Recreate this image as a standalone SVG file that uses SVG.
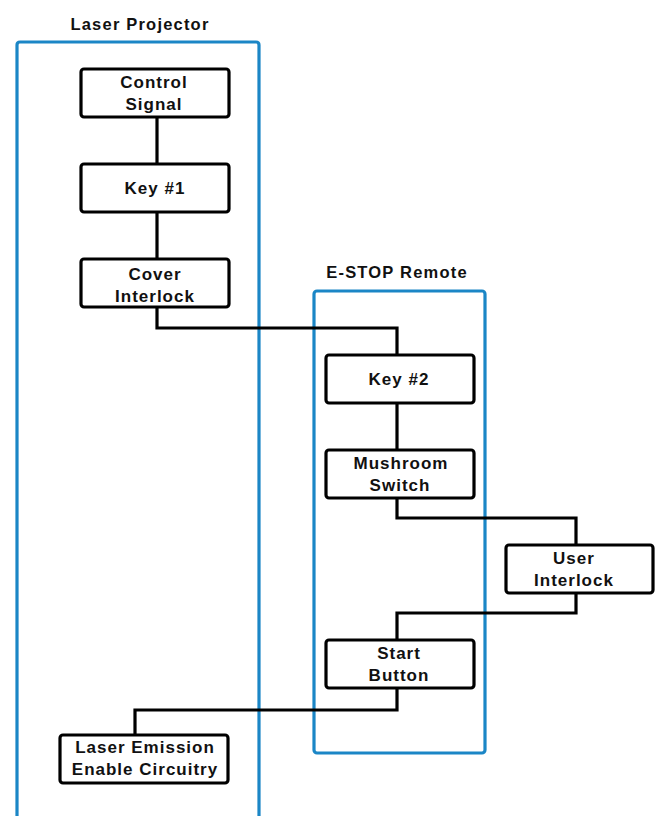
<svg xmlns="http://www.w3.org/2000/svg" width="655" height="816" viewBox="0 0 655 816">
<style>
.cont{fill:none;stroke:#1b86c6;stroke-width:3.2;stroke-linejoin:round}
.box{fill:#fff;stroke:#000;stroke-width:3.2}
.conn{fill:none;stroke:#000;stroke-width:3.2;stroke-linejoin:miter}
text{font-family:"Liberation Sans",Arial,sans-serif;font-weight:bold;font-size:17px;fill:#111;text-anchor:middle;letter-spacing:1px}
.title{font-size:16.5px;letter-spacing:1.2px}
</style>
<rect width="655" height="816" fill="#fff"/>
<g id="laser-projector">
<path class="cont" d="M17 830 V45 Q17 42 20 42 H256 Q259 42 259 45 V830"/>
<text class="title" x="140" y="30">Laser Projector</text>
</g>
<g id="estop-remote">
<rect class="cont" x="314" y="291" width="171" height="462" rx="3"/>
<text class="title" x="397" y="278">E-STOP Remote</text>
</g>
<g id="connectors">
<path class="conn" d="M157 117 V164"/>
<path class="conn" d="M157 212 V259"/>
<path class="conn" d="M157 307 V328 H397 V355"/>
<path class="conn" d="M397 403 V450"/>
<path class="conn" d="M397 498 V518 H576 V545"/>
<path class="conn" d="M576 593 V613 H397 V640"/>
<path class="conn" d="M397 688 V710 H135 V735"/>
</g>
<g id="control-signal">
<rect class="box" x="81" y="69" width="148" height="48" rx="3"/>
<text x="154" y="88">Control</text>
<text x="154" y="110">Signal</text>
</g>
<g id="key1">
<rect class="box" x="81" y="164" width="148" height="48" rx="3"/>
<text x="155" y="194">Key #1</text>
</g>
<g id="cover-interlock">
<rect class="box" x="81" y="259" width="148" height="48" rx="3"/>
<text x="155" y="280">Cover</text>
<text x="155" y="302">Interlock</text>
</g>
<g id="key2">
<rect class="box" x="326" y="355" width="148" height="48" rx="3"/>
<text x="399" y="385">Key #2</text>
</g>
<g id="mushroom-switch">
<rect class="box" x="326" y="450" width="148" height="48" rx="3"/>
<text x="401" y="469">Mushroom</text>
<text x="400" y="491">Switch</text>
</g>
<g id="user-interlock">
<rect class="box" x="506" y="545" width="147" height="48" rx="3"/>
<text x="574" y="564">User</text>
<text x="574" y="586">Interlock</text>
</g>
<g id="start-button">
<rect class="box" x="326" y="640" width="148" height="48" rx="3"/>
<text x="399" y="659">Start</text>
<text x="399" y="681">Button</text>
</g>
<g id="laser-emission">
<rect class="box" x="60" y="735" width="168" height="48" rx="3"/>
<text x="145" y="753">Laser Emission</text>
<text x="145" y="775">Enable Circuitry</text>
</g>
</svg>
